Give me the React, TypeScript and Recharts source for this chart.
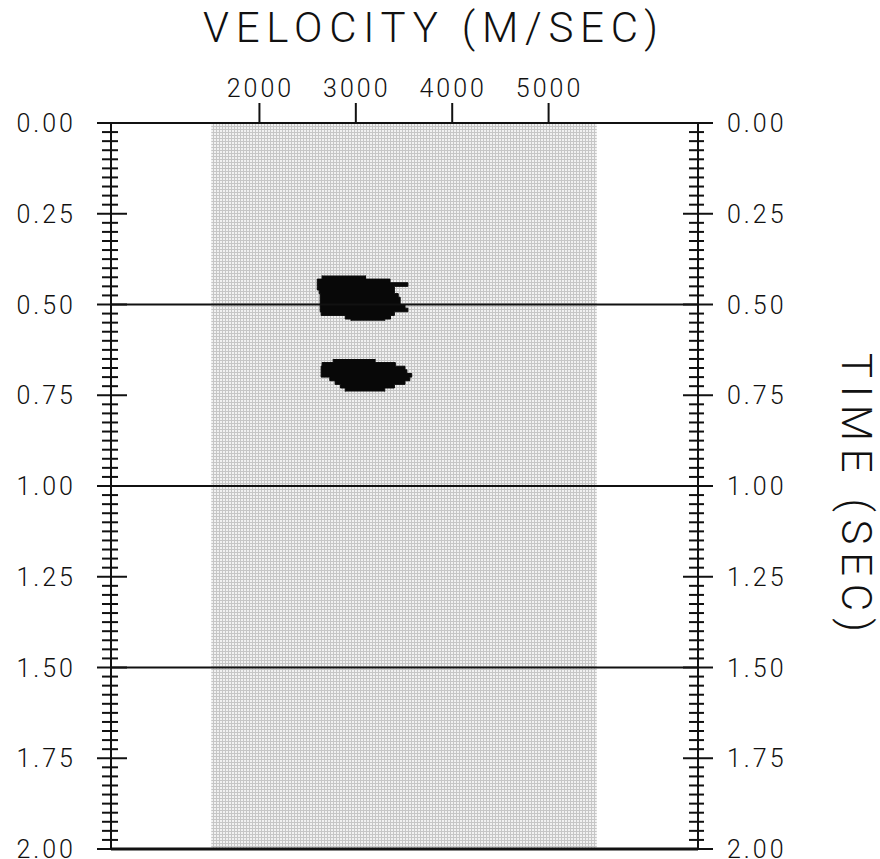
import React from "react";
import { ComposedChart, XAxis, YAxis, Area, ReferenceArea, ReferenceLine } from "recharts";

// velocity axis (m/s) across the top
const velocityDomain = [460, 6550];
const velocityTicks = [2000, 3000, 4000, 5000];

// time axis (s), read downwards
const timeDomain = [0, 2];
const timeMajorStep = 0.25;
const timeMinorStep = 0.025;
const timeRules = [0.5, 1.0, 1.5, 2.0];

// shaded scan window: [vMin, vMax, tMin, tMax]
const scanWindow = [1500, 5500, 0, 2];

// semblance peaks, one row per time slice: [t0, t1, vMin, vMax]
const upperPeak = [
  [0.42, 0.43, 2650, 3100],
  [0.43, 0.44, 2600, 3355],
  [0.44, 0.45, 2600, 3540],
  [0.45, 0.46, 2600, 3400],
  [0.46, 0.47, 2620, 3400],
  [0.47, 0.48, 2630, 3440],
  [0.48, 0.49, 2630, 3460],
  [0.49, 0.5, 2630, 3460],
  [0.5, 0.51, 2630, 3510],
  [0.51, 0.52, 2630, 3540],
  [0.52, 0.53, 2640, 3400],
  [0.53, 0.54, 2890, 3360],
  [0.54, 0.545, 2950, 3300],
];

const lowerPeak = [
  [0.65, 0.66, 2765, 3200],
  [0.66, 0.67, 2650, 3410],
  [0.67, 0.68, 2640, 3510],
  [0.68, 0.69, 2640, 3530],
  [0.69, 0.7, 2640, 3580],
  [0.7, 0.71, 2730, 3560],
  [0.71, 0.72, 2785, 3510],
  [0.72, 0.73, 2840, 3400],
  [0.73, 0.74, 2890, 3300],
];

// each slice becomes two points so the outline stays blocky
const toSteps = (rows: number[][]) =>
  rows.flatMap((r) => [
    { t: r[0], v: [r[2], r[3]] },
    { t: r[1], v: [r[2], r[3]] },
  ]);

const timeTicks = Array.from(
  { length: Math.round((timeDomain[1] - timeDomain[0]) / timeMinorStep) + 1 },
  (_, i) => +(timeDomain[0] + i * timeMinorStep).toFixed(3)
);

const FONT = "Roboto, 'DejaVu Sans', sans-serif";

const isMajor = (v: number) => Math.abs(v / timeMajorStep - Math.round(v / timeMajorStep)) < 1e-6;

function TimeTick(props: any) {
  const { x, y, payload, side } = props;
  const v = payload.value as number;
  const major = isMajor(v);
  const left = side === "left";
  const a = major ? (left ? 14 : 15) : 9;
  const b = major ? (left ? 16 : 15) : left ? 7 : 6;
  return (
    <g>
      <line x1={x - a} x2={x + b} y1={y} y2={y} stroke="#111" strokeWidth={2} />
      {major && (
        <text
          x={left ? x - 35 : x + 29}
          y={y + 9}
          textAnchor={left ? "end" : "start"}
          fontFamily={FONT}
          fontWeight={300}
          fontSize={25}
          letterSpacing={3}
          fill="#111"
        >
          {v.toFixed(2)}
        </text>
      )}
    </g>
  );
}

function VelocityTick(props: any) {
  const { x, y, payload } = props;
  return (
    <g>
      <line x1={x} x2={x} y1={y - 20} y2={y} stroke="#111" strokeWidth={2} />
      <text
        x={x + 1}
        y={y - 26}
        textAnchor="middle"
        fontFamily={FONT}
        fontWeight={300}
        fontSize={25}
        letterSpacing={3}
        fill="#111"
      >
        {payload.value}
      </text>
    </g>
  );
}

export default function App() {
  return (
    <div style={{ position: "absolute", left: 0, top: 0, width: 880, height: 859, background: "#fff" }}>
      <svg width={0} height={0} style={{ position: "absolute" }}>
        <defs>
          <pattern id="scanGrid" patternUnits="userSpaceOnUse" width={3} height={3}>
            <rect width={3} height={3} fill="#f1f1f1" />
            <rect width={3} height={1} fill="#c6c6c6" />
            <rect width={1} height={3} fill="#c6c6c6" />
          </pattern>
        </defs>
      </svg>
      <ComposedChart
        width={880}
        height={859}
        layout="vertical"
        margin={{ top: 83, left: 11, right: 82, bottom: 10 }}
      >
        <XAxis
          xAxisId="v"
          type="number"
          orientation="top"
          domain={velocityDomain}
          ticks={velocityTicks}
          allowDataOverflow
          height={40}
          tickSize={0}
          tickMargin={0}
          tickLine={false}
          axisLine={{ stroke: "#111", strokeWidth: 2 }}
          tick={(p: any) => <VelocityTick {...p} />}
          interval={0}
        />
        <YAxis
          yAxisId="left"
          dataKey="t"
          type="number"
          orientation="left"
          domain={timeDomain}
          ticks={timeTicks}
          allowDataOverflow
          width={100}
          tickSize={0}
          tickMargin={0}
          tickLine={false}
          axisLine={{ stroke: "#111", strokeWidth: 2 }}
          tick={(p: any) => <TimeTick {...p} side="left" />}
          interval={0}
        />
        <YAxis
          yAxisId="right"
          dataKey="t"
          type="number"
          orientation="right"
          domain={timeDomain}
          ticks={timeTicks}
          allowDataOverflow
          width={100}
          tickSize={0}
          tickMargin={0}
          tickLine={false}
          axisLine={{ stroke: "#111", strokeWidth: 2 }}
          tick={(p: any) => <TimeTick {...p} side="right" />}
          interval={0}
        />
        <ReferenceArea
          xAxisId="v"
          yAxisId="left"
          x1={scanWindow[0]}
          x2={scanWindow[1]}
          y1={scanWindow[2]}
          y2={scanWindow[3]}
          fill="url(#scanGrid)"
          fillOpacity={1}
          stroke="none"
        />
        {timeRules.map((t) => (
          <ReferenceLine
            key={`rule-${t}`}
            xAxisId="v"
            yAxisId="left"
            y={t}
            stroke="#111"
            strokeWidth={t === 2 ? 3 : 2}
          />
        ))}
        <Area
          xAxisId="v"
          yAxisId="left"
          data={toSteps(upperPeak)}
          dataKey="v"
          type="linear"
          stroke="#080808"
          strokeWidth={1}
          fill="#080808"
          fillOpacity={1}
          dot={false}
          activeDot={false}
          isAnimationActive={false}
        />
        <Area
          xAxisId="v"
          yAxisId="left"
          data={toSteps(lowerPeak)}
          dataKey="v"
          type="linear"
          stroke="#080808"
          strokeWidth={1}
          fill="#080808"
          fillOpacity={1}
          dot={false}
          activeDot={false}
          isAnimationActive={false}
        />
      </ComposedChart>
      <svg
        width={880}
        height={859}
        style={{ position: "absolute", left: 0, top: 0, pointerEvents: "none" }}
      >
        <text
          x={203}
          y={42}
          fontFamily={FONT}
          fontWeight={300}
          fontSize={42}
          textLength={455}
          lengthAdjust="spacing"
          fill="#111"
        >
          VELOCITY (M/SEC)
        </text>
        <text
          transform="translate(842,353) rotate(90)"
          fontFamily={FONT}
          fontWeight={300}
          fontSize={42}
          textLength={279}
          lengthAdjust="spacing"
          fill="#111"
        >
          TIME (SEC)
        </text>
      </svg>
    </div>
  );
}
